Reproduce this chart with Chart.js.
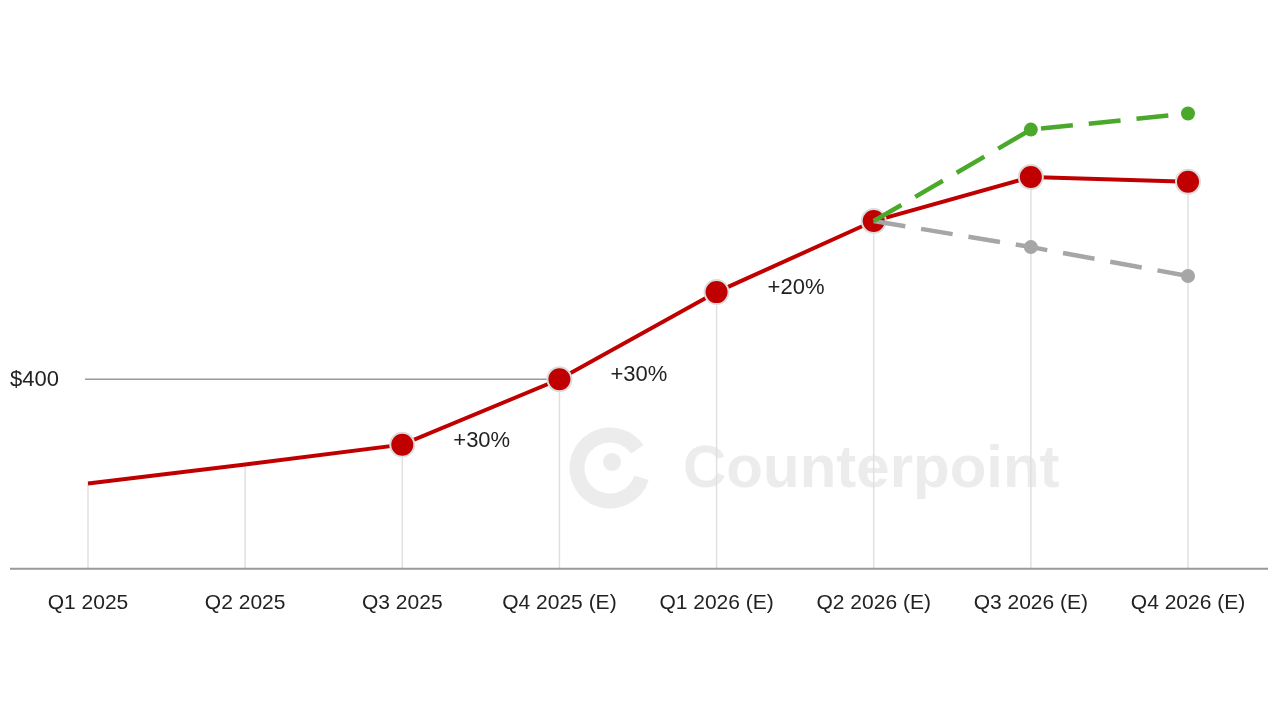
<!DOCTYPE html>
<html><head><meta charset="utf-8">
<script src="https://cdn.jsdelivr.net/npm/chart.js@4"></script>
<style>html,body{margin:0;background:#fff}#w{width:1280px;height:720px}</style>
</head><body><div id="w"><canvas id="c"></canvas></div>
<script>
const categories=["Q1 2025","Q2 2025","Q3 2025","Q4 2025 (E)","Q1 2026 (E)","Q2 2026 (E)","Q3 2026 (E)","Q4 2026 (E)"];
const baseValues=[180,220,262,400,584,734,827,817];
const highValues=[null,null,null,null,null,734,927,961];
const lowValues=[null,null,null,null,null,734,679,618];
const growthLabels=[null,null,"+30%","+30%","+20%",null,null,null];
const refValue=400, refLabel="$400";

const deco={id:'deco',
 beforeDatasetsDraw(ch){
  const {ctx,chartArea:a,scales:{x,y}}=ch;
  ctx.save();
  ctx.globalAlpha=0.12;ctx.strokeStyle='#666';ctx.lineWidth=15;
  ctx.beginPath();ctx.arc(610,468,33,0.3,Math.PI*2-0.6);ctx.stroke();
  ctx.fillStyle='#666';ctx.beginPath();ctx.arc(612,462,9,0,Math.PI*2);ctx.fill();
  ctx.font='bold 60px "Liberation Sans",Arial';ctx.textBaseline='middle';ctx.fillText('Counterpoint',683,470);
  ctx.globalAlpha=1;
  ctx.strokeStyle='#e0e0e0';ctx.lineWidth=1.5;
  baseValues.forEach((v,i)=>{const px=x.getPixelForValue(i);ctx.beginPath();ctx.moveTo(px,y.getPixelForValue(v));ctx.lineTo(px,a.bottom);ctx.stroke();});
  const ry=y.getPixelForValue(refValue);
  ctx.strokeStyle='#999';ctx.lineWidth=1.5;ctx.beginPath();ctx.moveTo(a.left-3,ry);ctx.lineTo(x.getPixelForValue(3),ry);ctx.stroke();
  ctx.fillStyle='#222';ctx.font='22px "Liberation Sans",Arial';ctx.textAlign='left';ctx.fillText(refLabel,10,ry+1);
  ctx.strokeStyle='#999';ctx.lineWidth=2;ctx.beginPath();ctx.moveTo(10,a.bottom);ctx.lineTo(1268,a.bottom);ctx.stroke();
  ctx.restore();
 },
 afterDatasetsDraw(ch){
  const {ctx,scales:{x,y}}=ch;
  ctx.save();ctx.fillStyle='#222';ctx.font='22px "Liberation Sans",Arial';ctx.textBaseline='middle';
  growthLabels.forEach((t,i)=>{if(!t)return;ctx.fillText(t,x.getPixelForValue(i)+51,y.getPixelForValue(baseValues[i])-4);});
  ctx.restore();
 }};

new Chart(document.getElementById('c'),{type:'line',
 data:{labels:categories,datasets:[
  {data:highValues,borderColor:'#4aa82a',borderWidth:4.5,borderDash:[32,16],pointRadius:c=>c.dataIndex===5?0:7,pointBackgroundColor:'#4aa82a',pointBorderWidth:0},
  {data:lowValues,borderColor:'#a6a6a6',borderWidth:4.5,borderDash:[32,16],pointRadius:c=>c.dataIndex===5?0:7,pointBackgroundColor:'#a6a6a6',pointBorderWidth:0},
  {data:baseValues,borderColor:'#c00000',borderWidth:4,pointRadius:c=>c.dataIndex<2?0:12,pointBackgroundColor:'#c00000',pointBorderColor:'#dcdcdc',pointBorderWidth:2}
 ]},
 options:{responsive:true,maintainAspectRatio:false,animation:false,
  layout:{padding:{left:88,right:92,top:95,bottom:90}},
  plugins:{legend:{display:false},tooltip:{enabled:false}},
  scales:{
   y:{display:false,min:0,max:1000},
   x:{offset:false,grid:{display:false},border:{display:false},ticks:{color:'#222',font:{size:21,family:'"Liberation Sans",Arial'},padding:14,maxRotation:0,autoSkip:false}}
  }},
 plugins:[deco]});
</script></body></html>
